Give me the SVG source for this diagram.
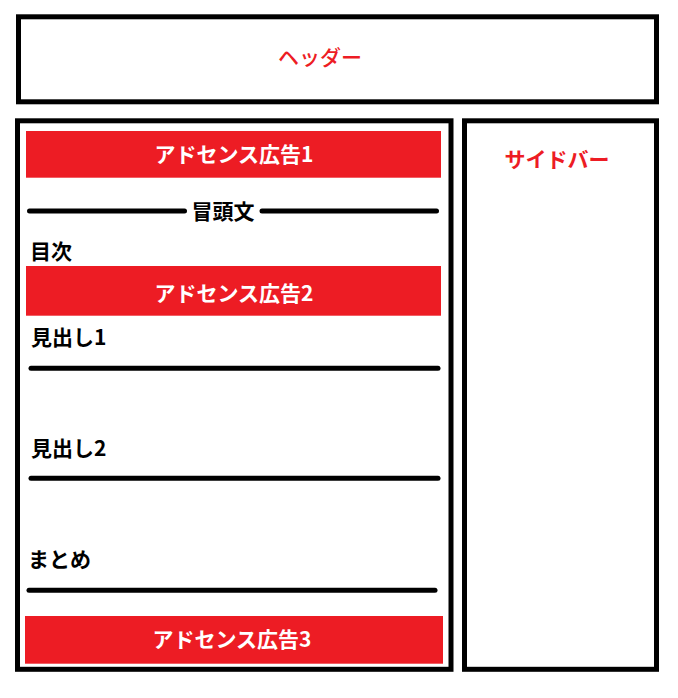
<svg xmlns="http://www.w3.org/2000/svg" width="678" height="698" viewBox="0 0 678 698">
<style>
.box{fill:#fff;stroke:#000;stroke-width:5}
.ad{fill:#ED1C24}
.adt{fill:#fff;font-family:"Noto Sans CJK JP","Noto Sans",sans-serif;font-weight:bold;font-size:21px;text-anchor:middle}
.rt{fill:#ED1C24;font-family:"Noto Sans CJK JP","Noto Sans",sans-serif;font-size:21px;text-anchor:middle}
.bt{fill:#000;font-family:"Noto Sans CJK JP","Noto Sans",sans-serif;font-weight:bold;font-size:21px}
.ln{stroke:#000;stroke-width:5;stroke-linecap:round;fill:none}
</style>
<rect width="678" height="698" fill="#fff"/>
<g id="header">
<rect class="box" x="18.5" y="16.8" width="638" height="85"/>
<text class="rt" x="320" y="65" style="font-weight:500">ヘッダー</text>
</g>
<g id="main">
<rect class="box" x="17.5" y="120.8" width="433.5" height="548.5"/>
</g>
<g id="sidebar">
<rect class="box" x="464.5" y="120.8" width="192" height="548.5"/>
<text class="rt" x="557" y="167" style="font-weight:bold">サイドバー</text>
</g>
<g id="ad1">
<rect class="ad" x="26" y="131" width="415" height="46.7"/>
<text class="adt" x="234" y="162">アドセンス広告1</text>
</g>
<g id="intro">
<line class="ln" x1="29.5" y1="211" x2="184.5" y2="211"/>
<line class="ln" x1="262" y1="211" x2="436.5" y2="211"/>
<text class="bt" x="223" y="219" text-anchor="middle">冒頭文</text>
</g>
<g id="toc">
<text class="bt" x="30" y="259">目次</text>
</g>
<g id="ad2">
<rect class="ad" x="26" y="266" width="415" height="49.7"/>
<text class="adt" x="234" y="301">アドセンス広告2</text>
</g>
<g id="h1">
<text class="bt" x="31" y="345">見出し1</text>
<line class="ln" x1="31" y1="368.3" x2="438" y2="368.3"/>
</g>
<g id="h2">
<text class="bt" x="31" y="456">見出し2</text>
<line class="ln" x1="31" y1="478.3" x2="438" y2="478.3"/>
</g>
<g id="summary">
<text class="bt" x="28" y="567">まとめ</text>
<line class="ln" x1="29" y1="590.3" x2="435" y2="590.3"/>
</g>
<g id="ad3">
<rect class="ad" x="25" y="616" width="418" height="47.7"/>
<text class="adt" x="232" y="647">アドセンス広告3</text>
</g>
</svg>
